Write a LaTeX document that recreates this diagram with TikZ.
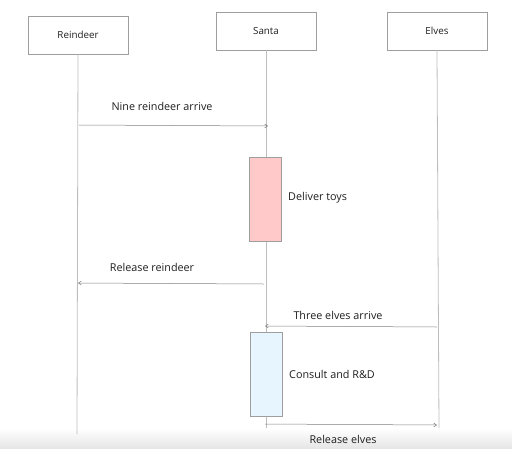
\documentclass[tikz,border=0pt]{standalone}
\usepackage{fontspec}
\setmainfont{Open Sans}
\usetikzlibrary{arrows.meta}
\definecolor{linegray}{HTML}{BDBDBD}
\definecolor{boxgray}{HTML}{9E9E9E}
\definecolor{actred}{HTML}{FFC9C9}
\definecolor{actblue}{HTML}{E7F5FF}
\definecolor{bandgray}{HTML}{E6E6E6}
\definecolor{txt}{HTML}{1E1E1E}
\tikzset{
  actor/.style={draw=boxgray, line width=0.5pt, minimum width=100pt, minimum height=38pt, inner sep=0pt, text=txt, font=\fontsize{9.8}{11}\selectfont},
  lifeline/.style={draw=linegray, line width=0.8pt},
  msg/.style={draw=gray, line width=0.5pt, -{Straight Barb[length=3pt,width=4pt]}},
  msglabel/.style={font=\fontsize{10.8}{12}\selectfont, text=txt, inner sep=0pt},
  actbox/.style={draw=boxgray, line width=0.5pt, minimum width=32pt, inner sep=0pt},
}
\begin{document}
\begin{tikzpicture}[x=1pt,y=-1pt]
\useasboundingbox (0,0) rectangle (512,448);
\shade[top color=white, bottom color=bandgray] (0,428) rectangle (512,448);
% actors
\node[actor] (rein) at (78,35) {Reindeer};
\node[actor] (santa) at (266,31) {Santa};
\node[actor] (elves) at (437,31) {Elves};
% lifeline ends
\coordinate (reinEnd) at (77,434);
\coordinate (santaEnd) at (266,428);
\coordinate (elvesEnd) at (439,428);
\draw[lifeline] (rein.south) -- (reinEnd);
\draw[lifeline] (santa.south) -- (santaEnd);
\draw[lifeline] (elves.south) -- (elvesEnd);
% activation boxes
\node[actbox, fill=actred, minimum height=84pt] (deliver) at (265,199) {};
\node[actbox, fill=actblue, minimum height=84pt] (consult) at (266,374) {};
\node[msglabel, anchor=west] (deliverLbl) at (288,198) {Deliver toys};
\node[msglabel, anchor=west] (consultLbl) at (289,374) {Consult and R\&D};
% message endpoints
\coordinate (m1s) at (79,125);
\coordinate (m1e) at (268,126);
\coordinate (m2s) at (264,284);
\coordinate (m2e) at (78,283);
\coordinate (m3s) at (437,327);
\coordinate (m3e) at (265,326);
\coordinate (m4s) at (265,424);
\coordinate (m4e) at (437,425);
\draw[msg] (m1s) -- (m1e);
\draw[msg] (m2s) -- (m2e);
\draw[msg] (m3s) -- (m3e);
\draw[msg] (m4s) -- (m4e);
\node[msglabel] (l1) at (162,106) {Nine reindeer arrive};
\node[msglabel] (l2) at (152,267) {Release reindeer};
\node[msglabel] (l3) at (338,315) {Three elves arrive};
\node[msglabel] (l4) at (343,439) {Release elves};
\end{tikzpicture}
\end{document}
